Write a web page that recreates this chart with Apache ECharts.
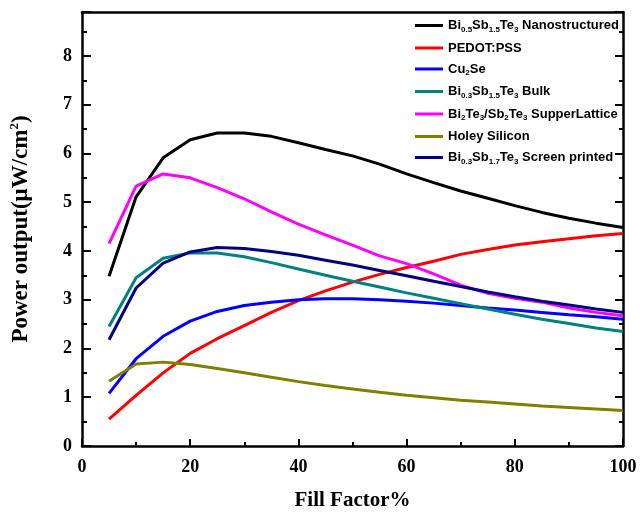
<!DOCTYPE html>
<html>
<head>
<meta charset="utf-8">
<script src="https://cdn.jsdelivr.net/npm/echarts@6/dist/echarts.min.js"></script>
<style>
  html, body { margin: 0; padding: 0; background: #fff; }
  #chart { width: 640px; height: 516px; }
</style>
</head>
<body>
<div id="chart"></div>
<script>
// fill factor (%)
var fillFactor = [5, 10, 15, 20, 25, 30, 35, 40, 45, 50, 55, 60, 65, 70, 75, 80, 85, 90, 95, 100];

// power output (uW/cm2)
var nanostructured = [3.48, 5.11, 5.91, 6.28, 6.42, 6.42, 6.35, 6.22, 6.08, 5.95, 5.78, 5.58, 5.40, 5.23, 5.08, 4.93, 4.79, 4.67, 4.57, 4.48];
var pedotPss = [0.55, 1.04, 1.50, 1.90, 2.20, 2.47, 2.74, 2.98, 3.18, 3.36, 3.52, 3.66, 3.79, 3.93, 4.03, 4.12, 4.19, 4.25, 4.31, 4.36];
var cu2Se = [1.08, 1.79, 2.25, 2.56, 2.76, 2.88, 2.95, 3.00, 3.02, 3.02, 3.00, 2.97, 2.93, 2.88, 2.83, 2.79, 2.74, 2.69, 2.65, 2.60];
var bulk = [2.45, 3.45, 3.85, 3.96, 3.96, 3.88, 3.76, 3.63, 3.50, 3.38, 3.26, 3.14, 3.03, 2.92, 2.81, 2.70, 2.60, 2.51, 2.42, 2.35];
var superLattice = [4.15, 5.33, 5.58, 5.50, 5.30, 5.07, 4.80, 4.55, 4.33, 4.12, 3.90, 3.74, 3.53, 3.30, 3.13, 3.03, 2.95, 2.83, 2.74, 2.67];
var holeySilicon = [1.33, 1.68, 1.72, 1.67, 1.59, 1.50, 1.41, 1.32, 1.24, 1.17, 1.10, 1.04, 0.99, 0.94, 0.90, 0.86, 0.82, 0.79, 0.76, 0.73];
var screenPrinted = [2.18, 3.24, 3.75, 3.98, 4.07, 4.05, 3.99, 3.91, 3.81, 3.71, 3.60, 3.49, 3.38, 3.27, 3.16, 3.06, 2.97, 2.89, 2.81, 2.74];

var names = [
    'Bi0.5Sb1.5Te3 Nanostructured',
    'PEDOT:PSS',
    'Cu2Se',
    'Bi0.3Sb1.5Te3 Bulk',
    'Bi2Te3/Sb2Te3 SupperLattice',
    'Holey Silicon',
    'Bi0.3Sb1.7Te3 Screen printed'
];
// same names with subscripts as rich text
var richNames = [
    '{n|Bi}{s|0.5}{n|Sb}{s|1.5}{n|Te}{s|3}{n| Nanostructured}',
    '{n|PEDOT:PSS}',
    '{n|Cu}{s|2}{n|Se}',
    '{n|Bi}{s|0.3}{n|Sb}{s|1.5}{n|Te}{s|3}{n| Bulk}',
    '{n|Bi}{s|2}{n|Te}{s|3}{n|/Sb}{s|2}{n|Te}{s|3}{n| SupperLattice}',
    '{n|Holey Silicon}',
    '{n|Bi}{s|0.3}{n|Sb}{s|1.7}{n|Te}{s|3}{n| Screen printed}'
];
var values = [nanostructured, pedotPss, cu2Se, bulk, superLattice, holeySilicon, screenPrinted];
var colors = ['#000000', '#ff0000', '#0000ff', '#008080', '#ff00ff', '#808000', '#000080'];

var serif = '"Liberation Serif", "Times New Roman", serif';
var sans = '"Liberation Sans", Arial, sans-serif';

var chart = echarts.init(document.getElementById('chart'));

var series = [];
for (var i = 0; i < names.length; i++) {
    var pts = [];
    for (var j = 0; j < fillFactor.length; j++) {
        pts.push([fillFactor[j], values[i][j]]);
    }
    series.push({
        name: names[i],
        type: 'line',
        data: pts,
        symbol: 'none',
        xAxisIndex: 0,
        yAxisIndex: 0,
        lineStyle: { color: colors[i], width: 3 },
        itemStyle: { color: colors[i] }
    });
}

var frameLine = { lineStyle: { color: '#000', width: 2.5 } };

var option = {
    backgroundColor: '#fff',
    animation: false,
    grid: { left: 82, right: 17, top: 12, bottom: 69 },
    legend: {
        orient: 'vertical',
        left: 410,
        top: 14,
        itemWidth: 28,
        itemHeight: 3,
        itemGap: 8,
        icon: 'rect',
        data: names,
        formatter: function(name) {
            return richNames[names.indexOf(name)];
        },
        textStyle: {
            rich: {
                n: { fontFamily: sans, fontWeight: 'bold', fontSize: 13, color: '#000', lineHeight: 16 },
                s: { fontFamily: sans, fontWeight: 'bold', fontSize: 8, color: '#000', lineHeight: 8, verticalAlign: 'bottom' }
            }
        }
    },
    xAxis: [{
        type: 'value',
        min: 0,
        max: 100,
        interval: 20,
        name: 'Fill Factor%',
        nameLocation: 'middle',
        nameGap: 44,
        nameTextStyle: { fontFamily: serif, fontWeight: 'bold', fontSize: 21, color: '#000' },
        axisLine: frameLine,
        axisTick: { inside: true, length: 7, lineStyle: { color: '#000', width: 2 } },
        minorTick: { show: true, splitNumber: 2, length: 4, lineStyle: { color: '#000', width: 2 } },
        axisLabel: { fontFamily: serif, fontWeight: 'bold', fontSize: 18, color: '#000', margin: 12 },
        splitLine: { show: false }
    }, {
        type: 'value',
        position: 'top',
        min: 0,
        max: 100,
        axisLine: { show: true, onZero: false, lineStyle: { color: '#000', width: 2.5 } },
        axisTick: { show: false },
        axisLabel: { show: false },
        splitLine: { show: false }
    }],
    yAxis: [{
        type: 'value',
        min: 0,
        max: 8.9,
        interval: 1,
        name: '{a|Power output(μW/cm}{p|2}{a|)}',
        nameLocation: 'middle',
        nameGap: 48,
        nameTextStyle: {
            rich: {
                a: { fontFamily: serif, fontWeight: 'bold', fontSize: 23, color: '#000', lineHeight: 26 },
                p: { fontFamily: serif, fontWeight: 'bold', fontSize: 13, color: '#000', lineHeight: 13, verticalAlign: 'top' }
            }
        },
        axisLine: { show: true, onZero: false, lineStyle: { color: '#000', width: 2.5 } },
        axisTick: { inside: true, length: 9, lineStyle: { color: '#000', width: 2 } },
        minorTick: { show: true, splitNumber: 2, length: 5, lineStyle: { color: '#000', width: 2 } },
        axisLabel: { fontFamily: serif, fontWeight: 'bold', fontSize: 18, color: '#000', margin: 10, showMaxLabel: false },
        splitLine: { show: false }
    }, {
        type: 'value',
        position: 'right',
        min: 0,
        max: 8.9,
        interval: 1,
        axisLine: { show: true, onZero: false, lineStyle: { color: '#000', width: 2.5 } },
        axisTick: { inside: true, length: 8, lineStyle: { color: '#000', width: 2 } },
        minorTick: { show: true, splitNumber: 2, length: 4, lineStyle: { color: '#000', width: 2 } },
        axisLabel: { show: false },
        splitLine: { show: false }
    }],
    series: series
};

chart.setOption(option);
</script>
</body>
</html>
